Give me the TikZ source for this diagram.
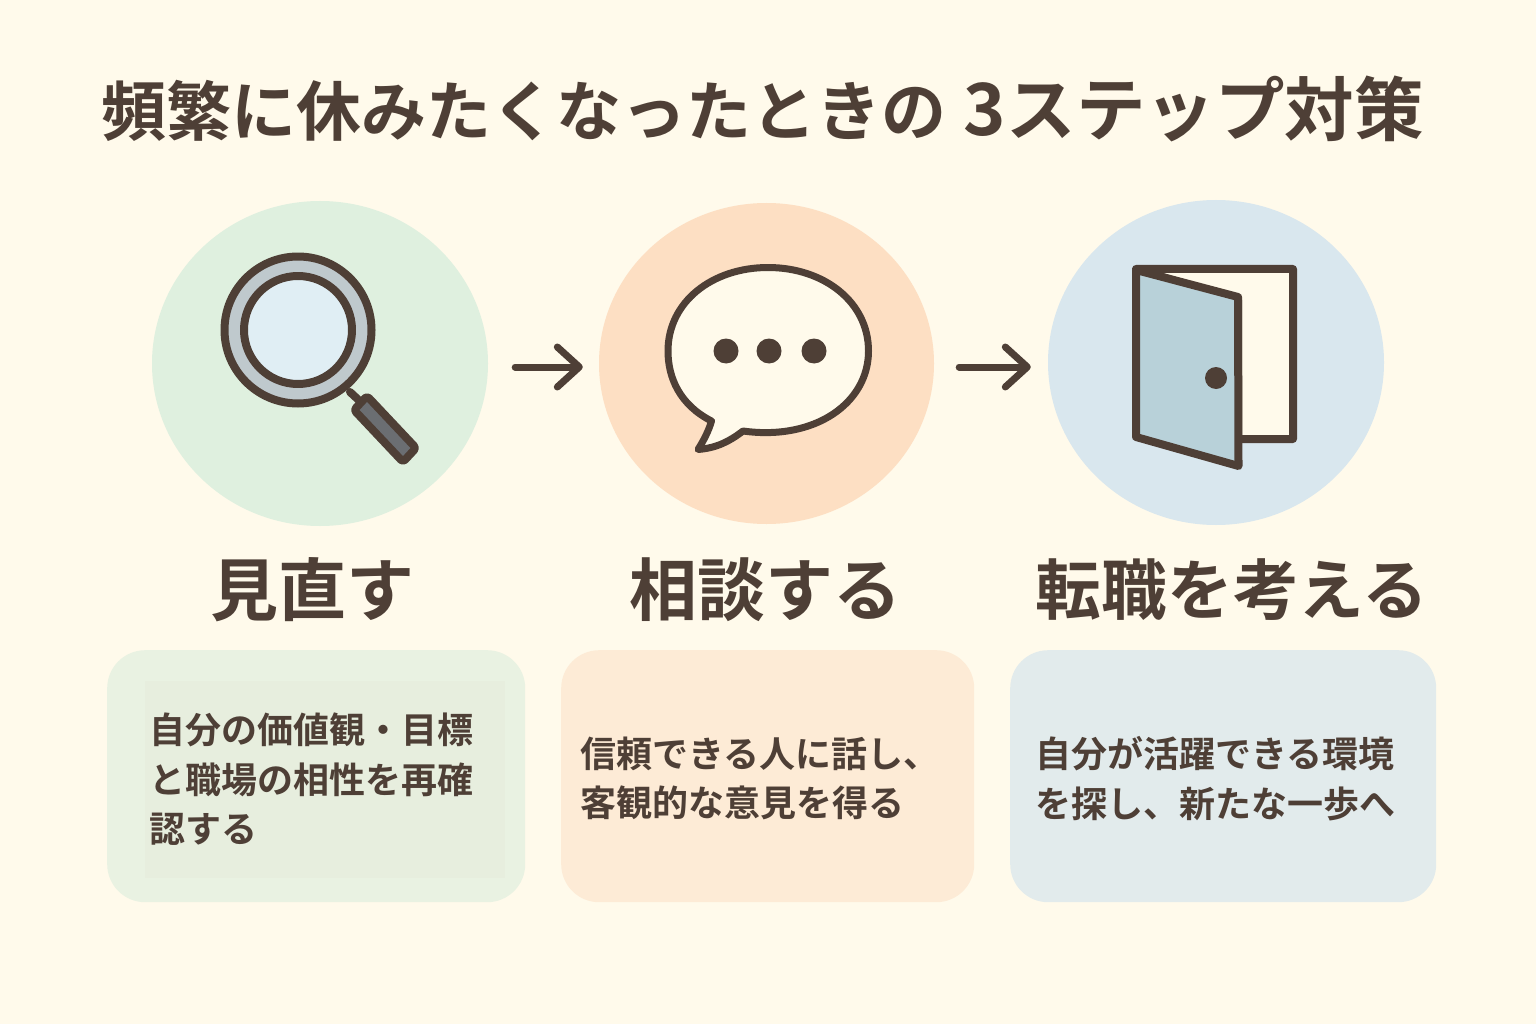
\documentclass[tikz,border=0pt]{standalone}
\usepackage{fontspec}
\setmainfont{Noto Sans CJK JP}[BoldFont={* Bold}]
\newfontfamily\jpb{Noto Sans CJK JP Bold}
\usetikzlibrary{shapes.geometric,arrows.meta}
\definecolor{bgc}{HTML}{FFFAEB}
\definecolor{ink}{HTML}{4E3F36}
\definecolor{gc}{HTML}{DFF0DF}
\definecolor{oc}{HTML}{FDDFC3}
\definecolor{bc}{HTML}{D9E7EE}
\definecolor{gb}{HTML}{E9F2E2}
\definecolor{gi}{HTML}{E7EEDE}
\definecolor{ob}{HTML}{FDEBD6}
\definecolor{bb}{HTML}{E2EBEC}
\definecolor{lens}{HTML}{E0EEF4}
\definecolor{rim}{HTML}{BFC9CD}
\definecolor{hand}{HTML}{6B6E72}
\definecolor{leaf}{HTML}{B8D1D9}
\tikzset{
  disc/.style={ellipse,draw=none,inner sep=0pt,minimum width=336pt,minimum height=325pt},
  card/.style={rectangle,rounded corners=38pt,inner sep=0pt,minimum height=252pt,anchor=north west},
  titletext/.style={text=ink,inner sep=0pt,anchor=west,font=\jpb\fontsize{65}{65}\selectfont},
  headtext/.style={text=ink,inner sep=0pt},
  desctext/.style={text=ink,inner sep=0pt,align=left,anchor=north west,font=\jpb\fontsize{36}{49.7}\selectfont},
  icon/.style={draw=ink,line width=8pt,line join=round,line cap=round},
  stepflow/.style={draw=ink,line width=7pt,line cap=round,-{Straight Barb[round,length=22pt,width=40pt,line width=7pt]}}
}
\begin{document}
\begin{tikzpicture}[x=1pt,y=-1pt]
\path[use as bounding box,fill=bgc] (0,0) rectangle (1536,1024);
\node[titletext] (title) at (101,109) {頻繁に休みたくなったときの\hspace{17pt}{\fontsize{72}{72}\selectfont 3}\hspace{1pt}{\fontsize{69.5}{69.5}\selectfont ステップ対策}};
% discs
\node[disc,fill=gc] (d1) at (320,363.5) {};
\node[disc,fill=oc,minimum width=335pt,minimum height=321pt] (d2) at (766.5,363.5) {};
\node[disc,fill=bc] (d3) at (1216,362.5) {};
% arrows
\coordinate (a1s) at ([xshift=27pt,yshift=-3.5pt]d1.east);
\coordinate (a1e) at ([xshift=-16pt,yshift=-3.5pt]d2.west);
\coordinate (a2s) at ([xshift=25pt,yshift=-3.5pt]d2.east);
\coordinate (a2e) at ([xshift=-17pt,yshift=-4.5pt]d3.west);
\draw[stepflow] (a1s) -- (a1e);
\draw[stepflow] (a2s) -- (a2e);
% magnifier
\draw[icon] (350,392) -- (364,405);
\draw[icon,fill=hand,line width=8pt,rounded corners=3pt] (367,396) -- (354,410) -- (403,462) -- (416,448) -- cycle;
\fill[rim] (298,330) circle (72pt);
\draw[icon,fill=lens] (298,330) circle (54pt);
\draw[icon] (298,330) circle (73.5pt);
% speech bubble
\draw[icon,line width=7pt,fill=bgc]
  (711.5,421) .. controls (680,405) and (668,378) .. (668,351)
  .. controls (668,302) and (712,267.5) .. (768,267.5)
  .. controls (824,267.5) and (868.5,302) .. (868.5,351)
  .. controls (868.5,403) and (815,441) .. (743,431)
  .. controls (730,441) and (717,448) .. (698,449.5)
  .. controls (704,440) and (709,430) .. (711.5,421) -- cycle;
\fill[ink] (726,351) circle (12.5pt) (769,351) circle (12.5pt) (814,351) circle (12.5pt);
% door
\draw[icon,fill=bgc] (1136,269) -- (1293,269) -- (1293,439) -- (1238,439) -- (1238,300) -- cycle;
\draw[icon,fill=leaf] (1136,270) -- (1238,297) -- (1238.5,466) -- (1136,437) -- cycle;
\fill[ink] (1216,378) circle (11pt);
% headings
\node[headtext,font=\jpb\fontsize{68}{68}\selectfont] (h1) at (312.5,590) {見直す};
\node[headtext,font=\jpb\fontsize{68}{68}\selectfont] (h2) at (765.5,590) {相談する};
\node[headtext,font=\jpb\fontsize{65.7}{65.7}\selectfont] (h3) at (1232,590) {転職を考える};
% cards
\node[card,fill=gb,minimum width=418pt] (c1) at (107,650) {};
\node[rectangle,fill=gi,inner sep=0pt,minimum width=360pt,minimum height=197pt,anchor=north west] (c1i) at (145,681) {};
\node[card,fill=ob,minimum width=413pt] (c2) at (561,650) {};
\node[card,fill=bb,minimum width=426pt] (c3) at (1010,650) {};
\node[desctext] (t1) at (149,712.5) {自分の価値観・目標\\と職場の相性を再確\\認する};
\node[desctext] (t2) at (580,736.5) {信頼できる人に話し、\\客観的な意見を得る};
\node[desctext] (t3) at (1035,736.5) {自分が活躍できる環境\\を探し、新たな一歩へ};
\end{tikzpicture}
\end{document}
